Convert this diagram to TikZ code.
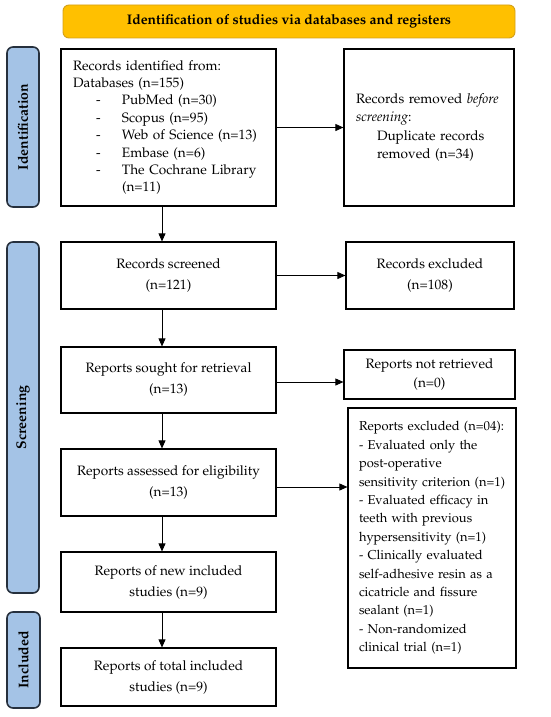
\documentclass[tikz,border=0pt]{standalone}
\usepackage[T1]{fontenc}
\usepackage{mathpazo}
\usetikzlibrary{arrows.meta,calc}
\definecolor{gold}{HTML}{FFC000}
\definecolor{goldline}{HTML}{D4A017}
\definecolor{sideblue}{HTML}{A4C3E6}
\definecolor{sideline}{HTML}{26303D}
\tikzset{
  box/.style={draw=black, line width=1.2pt, fill=white, inner sep=0pt, font=\fontsize{13.6}{17.4}\selectfont},
  cbox/.style={box, align=center, font=\fontsize{13.6}{21}\selectfont},
  side/.style={draw=sideline, line width=1.6pt, fill=sideblue, rounded corners=6pt, inner sep=0pt},
  sidetext/.style={rotate=90, font=\fontsize{14}{16}\selectfont\bfseries},
  flow/.style={line width=0.8pt, -{Triangle[length=8pt,width=7pt]}},
}
\newcommand{\exl}[1]{\makebox[146pt][l]{#1}}
\begin{document}
\begin{tikzpicture}[x=1pt,y=-1pt]
\useasboundingbox (0,0) rectangle (550,717);
% title
\node[draw=goldline, line width=0.9pt, fill=gold, rounded corners=6pt, minimum width=452pt, minimum height=33pt, inner sep=0pt, font=\fontsize{13.9}{15}\selectfont\bfseries] (title) at (289,21.5) {Identification of studies via databases and registers};
% side labels
\node[side, minimum width=32pt, minimum height=160pt] (sid) at (23,127) {};
\node[sidetext] (sidt) at (sid.center) {Identification};
\node[side, minimum width=32pt, minimum height=351pt] (sscr) at (23,417.5) {};
\node[sidetext] (sscrt) at (sscr.center) {Screening};
\node[side, minimum width=33pt, minimum height=96pt] (sinc) at (23.5,660) {};
\node[sidetext] (sinct) at (sinc.center) {Included};
% left column
\node[box, minimum width=215pt, minimum height=157pt, text width=191pt, align=left] (ident) at (168.5,127.5) {Records identified from:\\
Databases (n=155)\\
\makebox[49pt][l]{\hspace*{23pt}-}PubMed (n=30)\\
\makebox[49pt][l]{\hspace*{23pt}-}Scopus (n=95)\\
\makebox[49pt][l]{\hspace*{23pt}-}Web of Science (n=13)\\
\makebox[49pt][l]{\hspace*{23pt}-}Embase (n=6)\\
\makebox[49pt][l]{\hspace*{23pt}-}The Cochrane Library\\
\makebox[49pt][l]{}(n=11)};
\node[cbox, minimum width=215pt, minimum height=67pt] (scr) at (168.5,275.5) {Records screened\\(n=121)};
\node[cbox, minimum width=215pt, minimum height=66pt] (sought) at (168.5,380) {Reports sought for retrieval\\(n=13)};
\node[cbox, minimum width=215pt, minimum height=67pt] (assess) at (168.5,482.5) {Reports assessed for eligibility\\(n=13)};
\node[cbox, minimum width=215pt, minimum height=60pt] (newinc) at (168.5,582) {Reports of new included\\studies (n=9)};
\node[cbox, minimum width=215pt, minimum height=58pt] (total) at (168.5,677) {Reports of total included\\studies (n=9)};
% right column
\node[box, minimum width=170pt, minimum height=157pt, text width=146pt, align=left, font=\fontsize{13.6}{18.3}\selectfont] (removed) at (429,127.5) {\exl{Records removed \textit{before}}\\
\exl{\textit{screening}:}\\
\exl{\hspace*{21pt}Duplicate records}\\
\exl{\hspace*{21pt}removed (n=34)}};
\node[cbox, minimum width=168pt, minimum height=67pt] (excl) at (430,275.5) {Records excluded\\(n=108)};
\node[cbox, minimum width=171pt, minimum height=49pt, font=\fontsize{13.6}{19}\selectfont] (notret) at (429.5,374.5) {Reports not retrieved\\(n=0)};
\node[box, minimum width=168pt, minimum height=260pt, text width=146pt, align=left, font=\fontsize{12.9}{18.4}\selectfont] (rexcl) at (432,538) {\exl{Reports excluded (n=04):}\\
\exl{- Evaluated only the}\\
\exl{post-operative}\\
\exl{sensitivity criterion (n=1)}\\
\exl{- Evaluated efficacy in}\\
\exl{teeth with previous}\\
\exl{hypersensitivity (n=1)}\\
\exl{- Clinically evaluated}\\
\exl{self-adhesive resin as a}\\
\exl{cicatricle and fissure}\\
\exl{sealant (n=1)}\\
\exl{- Non-randomized}\\
\exl{clinical trial (n=1)}};
% connectors
\coordinate (spine) at (162,0);
\coordinate (row3) at (0,382);
\coordinate (row4) at (0,487);
\draw[flow] (ident.east) -- (removed.west);
\draw[flow] (ident.south -| spine) -- (scr.north -| spine);
\draw[flow] (scr.east) -- (excl.west);
\draw[flow] (scr.south -| spine) -- (sought.north -| spine);
\draw[flow] (sought.east |- row3) -- (notret.west |- row3);
\draw[flow] (sought.south -| spine) -- (assess.north -| spine);
\draw[flow] (assess.east |- row4) -- (rexcl.west |- row4);
\draw[flow] (assess.south -| spine) -- (newinc.north -| spine);
\draw[flow] (newinc.south -| spine) -- (total.north -| spine);
\end{tikzpicture}
\end{document}
